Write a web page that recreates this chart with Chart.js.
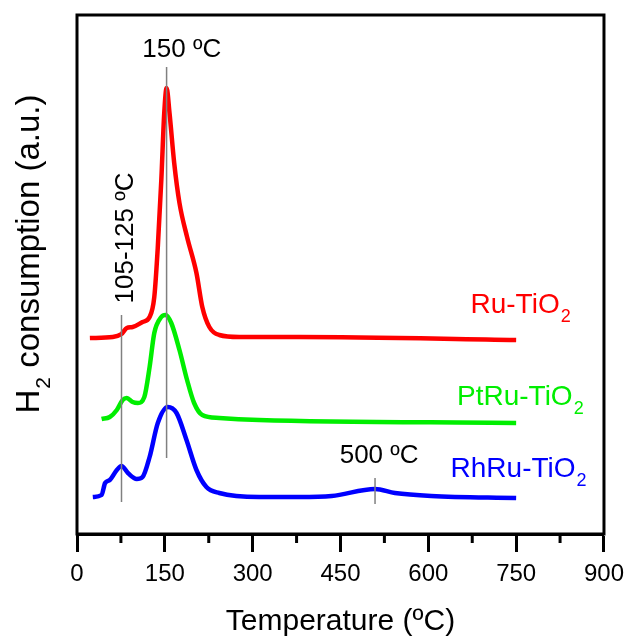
<!DOCTYPE html>
<html>
<head>
<meta charset="utf-8">
<script src="https://cdn.jsdelivr.net/npm/chart.js@4.4.1/dist/chart.umd.min.js"></script>
<style>
  html, body { margin: 0; padding: 0; background: #fff; }
  #wrap { width: 632px; height: 640px; position: relative; }
</style>
</head>
<body>
<div id="wrap"><canvas id="tprChart"></canvas></div>
<script>
// H2-TPR profiles, temperature in ºC, signal in a.u. (curves are offset vertically)
const ruTemp     = [22, 61, 76, 85, 95, 112, 124, 132, 138, 144, 149, 153, 158, 166, 175, 188, 204, 214, 226, 243, 277, 379, 750];
const ruSignal   = [196, 197, 200, 206, 207, 212, 217, 237, 287, 354, 421, 446, 421, 371, 331, 297, 261, 227, 207, 199, 197, 197, 194];

const ptruTemp   = [42, 56, 68, 78, 85, 95, 104, 115, 124, 132, 144, 151, 161, 175, 188, 200, 214, 243, 311, 750];
const ptruSignal = [115, 117, 124, 134, 136, 132, 131, 137, 167, 201, 217, 219, 211, 184, 154, 131, 119, 116, 114, 111];

const rhruTemp   = [27, 42, 48, 56, 68, 76, 87, 102, 112, 124, 138, 155, 170, 187, 204, 221, 243, 311, 379, 435, 509, 543, 605, 750];
const rhruSignal = [37, 39, 51, 54, 64, 68, 61, 55, 57, 77, 111, 127, 121, 94, 64, 47, 41, 37, 37, 38, 45, 41, 38, 36];

// peak marker lines: temperature, lower and upper signal
const markerTemp = [153, 76, 509];
const markerLow  = [76, 32, 30];
const markerHigh = [467, 219, 56];

const xTicks = [0, 150, 300, 450, 600, 750, 900];

const FONT = '"Liberation Sans", Arial, sans-serif';

function pts(xs, ys) {
  return xs.map((x, i) => ({ x: x, y: ys[i] }));
}

function curve(label, xs, ys, color) {
  return {
    label: label,
    data: pts(xs, ys),
    borderColor: color,
    borderWidth: 4.5,
    pointRadius: 0,
    tension: 0.4,
    cubicInterpolationMode: 'monotone',
    fill: false,
    order: 1
  };
}

const markerSets = markerTemp.map((t, i) => ({
  label: 'marker' + i,
  data: [{ x: t, y: markerLow[i] }, { x: t, y: markerHigh[i] }],
  borderColor: '#808080',
  borderWidth: 1.5,
  pointRadius: 0,
  fill: false,
  order: 0
}));

// text with a subscript part, e.g. TiO2
function drawSub(ctx, x, y, main, sub, size, rest) {
  ctx.font = size + 'px ' + FONT;
  ctx.fillText(main, x, y);
  let w = ctx.measureText(main).width;
  ctx.font = Math.round(size * 0.65) + 'px ' + FONT;
  ctx.fillText(sub, x + w + 1, y + size * 0.32);
  w += ctx.measureText(sub).width + 1;
  if (rest) {
    ctx.font = size + 'px ' + FONT;
    ctx.fillText(rest, x + w, y);
  }
}

function subWidth(ctx, main, sub, size, rest) {
  ctx.font = size + 'px ' + FONT;
  let w = ctx.measureText(main).width + (rest ? ctx.measureText(rest).width : 0);
  ctx.font = Math.round(size * 0.65) + 'px ' + FONT;
  return w + ctx.measureText(sub).width + 1;
}

const annotatePlugin = {
  id: 'annotatePlugin',
  afterDraw(chart) {
    const { ctx, chartArea } = chart;
    const xs = chart.scales.x, ys = chart.scales.y;
    ctx.save();

    // frame
    ctx.strokeStyle = '#000';
    ctx.lineWidth = 3;
    ctx.strokeRect(chartArea.left, chartArea.top, chartArea.right - chartArea.left, chartArea.bottom - chartArea.top);

    // minor ticks
    for (let v = 75; v < 900; v += 150) {
      const px = xs.getPixelForValue(v);
      ctx.beginPath();
      ctx.moveTo(px, chartArea.bottom);
      ctx.lineTo(px, chartArea.bottom + 9);
      ctx.stroke();
    }

    ctx.textBaseline = 'alphabetic';
    ctx.textAlign = 'left';

    // series labels
    ctx.fillStyle = '#ff0000';
    drawSub(ctx, xs.getPixelForValue(672), ys.getPixelForValue(221), 'Ru-TiO', '2', 28);
    ctx.fillStyle = '#00ee00';
    drawSub(ctx, xs.getPixelForValue(649), ys.getPixelForValue(129), 'PtRu-TiO', '2', 28);
    ctx.fillStyle = '#0000ff';
    drawSub(ctx, xs.getPixelForValue(638), ys.getPixelForValue(57), 'RhRu-TiO', '2', 28);

    // peak annotations
    ctx.fillStyle = '#000';
    ctx.font = '26px ' + FONT;
    ctx.textAlign = 'center';
    ctx.fillText('150 ºC', xs.getPixelForValue(179), ys.getPixelForValue(477));
    ctx.fillText('500 ºC', xs.getPixelForValue(516), ys.getPixelForValue(71));

    ctx.save();
    ctx.translate(xs.getPixelForValue(95), ys.getPixelForValue(296));
    ctx.rotate(-Math.PI / 2);
    ctx.fillText('105-125 ºC', 0, 0);
    ctx.restore();

    // y axis title
    ctx.save();
    ctx.translate(39, 254);
    ctx.rotate(-Math.PI / 2);
    ctx.textAlign = 'left';
    const tw = subWidth(ctx, 'H', '2', 33, ' consumption (a.u.)');
    drawSub(ctx, -tw / 2, 0, 'H', '2', 33, ' consumption (a.u.)');
    ctx.restore();

    ctx.restore();
  }
};

const tprChart = new Chart(document.getElementById('tprChart'), {
  type: 'line',
  data: {
    datasets: [
      ...markerSets,
      curve('Ru-TiO2', ruTemp, ruSignal, '#ff0000'),
      curve('PtRu-TiO2', ptruTemp, ptruSignal, '#00ee00'),
      curve('RhRu-TiO2', rhruTemp, rhruSignal, '#0000ff')
    ]
  },
  options: {
    responsive: true,
    maintainAspectRatio: false,
    animation: false,
    layout: { padding: { left: 77, right: 25, top: 15, bottom: 0 } },
    scales: {
      x: {
        type: 'linear',
        min: 0,
        max: 900,
        afterBuildTicks: (scale) => { scale.ticks = xTicks.map(v => ({ value: v })); },
        afterFit: (scale) => { scale.height = 106; },
        ticks: {
          color: '#000',
          padding: 8,
          maxRotation: 0,
          font: { family: FONT, size: 24 }
        },
        grid: {
          drawOnChartArea: false,
          drawTicks: true,
          tickLength: 18,
          tickWidth: 3,
          tickColor: '#000'
        },
        border: { display: true, color: '#000', width: 3 },
        title: {
          display: true,
          text: 'Temperature (ºC)',
          color: '#000',
          font: { family: FONT, size: 30 },
          padding: { top: 0, bottom: 0 }
        }
      },
      y: {
        display: false,
        min: 0,
        max: 519
      }
    },
    plugins: {
      legend: { display: false },
      tooltip: { enabled: false }
    }
  },
  plugins: [annotatePlugin]
});
</script>
</body>
</html>
